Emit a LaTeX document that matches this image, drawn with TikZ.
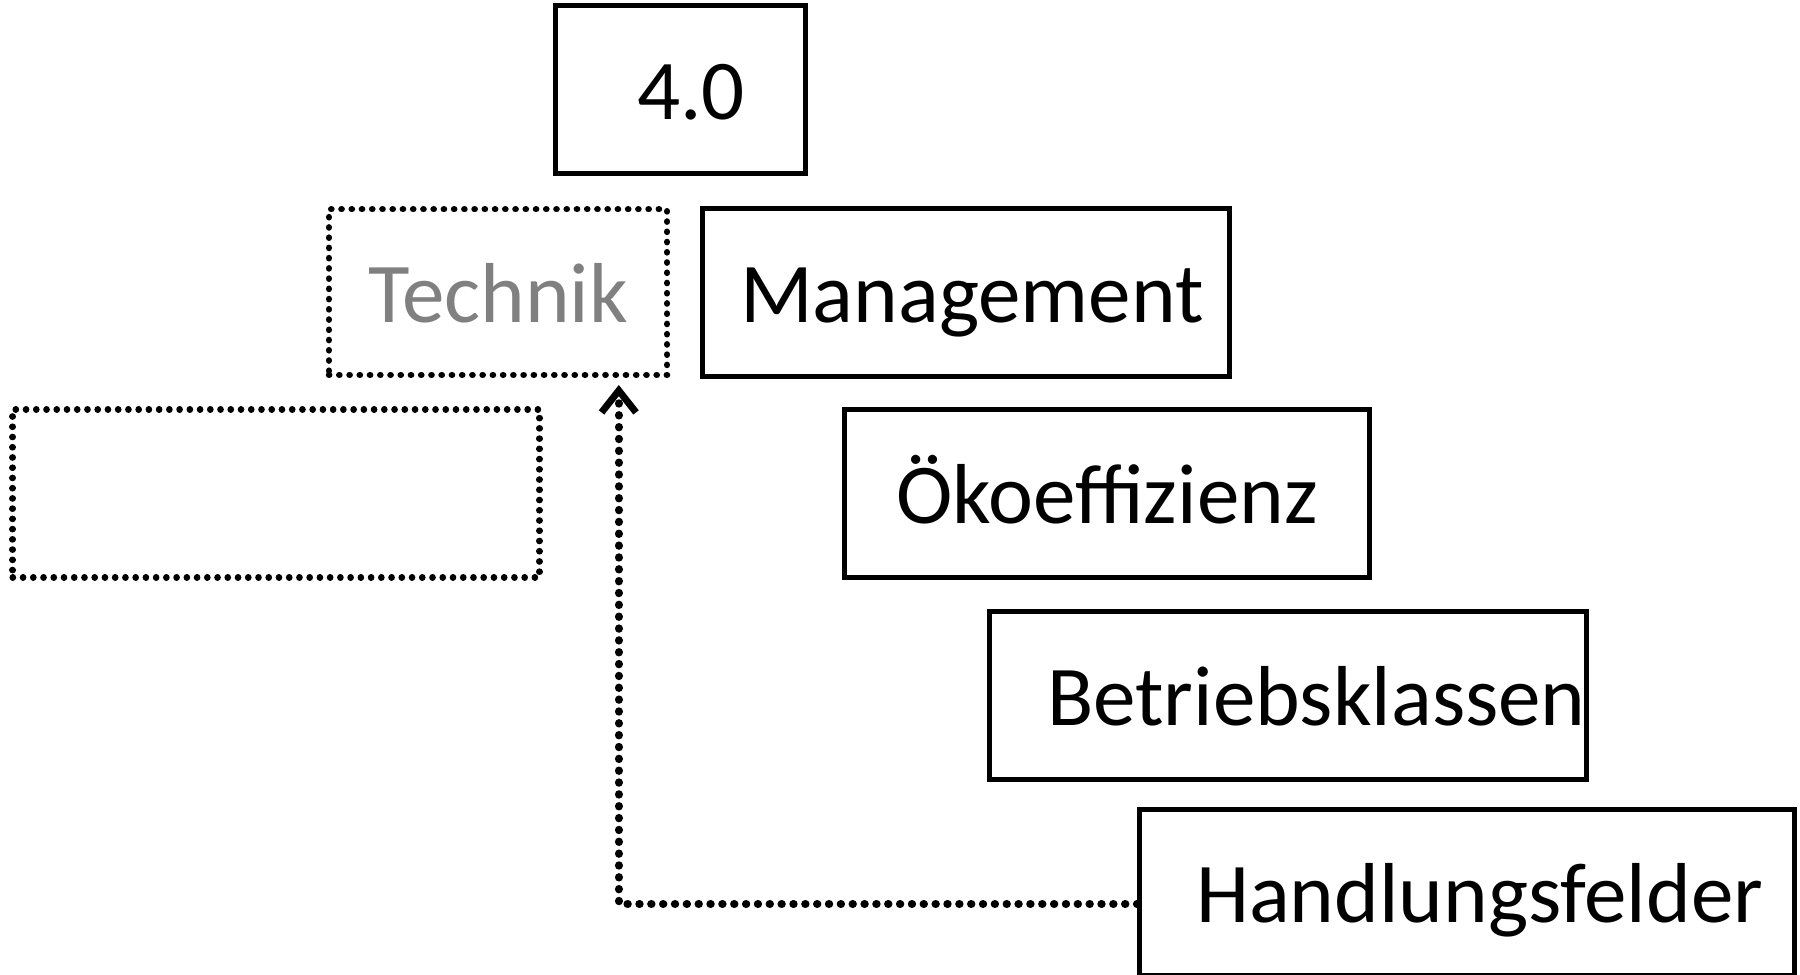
\documentclass[tikz,border=0pt]{standalone}
\usepackage{fontspec}
\setmainfont{Carlito}
\usetikzlibrary{arrows.meta}
\definecolor{techgray}{HTML}{808080}
\tikzset{
  boxbase/.style={rectangle, inner sep=0pt, text height=52bp, text depth=0bp,
    font=\fontsize{74bp}{80bp}\selectfont},
  solidbox/.style={boxbase, draw=black, line width=4.5bp},
  dotbox/.style={boxbase, draw=black, line width=5.5bp, line cap=round, dash pattern=on 0.3bp off 8.6bp},
  arrowline/.style={draw=black, line width=7bp, line cap=round, dash pattern=on 0.3bp off 10bp,
    -{Straight Barb[length=19bp,width=30bp,line width=6bp]}}
}
\begin{document}
\begin{tikzpicture}[x=1bp,y=-1bp]
\useasboundingbox (0,0) rectangle (1565,847);
\node[solidbox, minimum width=217bp, minimum height=146bp] (n40) at (591.5,78) {\hspace*{19bp}4.0};
\node[dotbox, minimum width=294bp, minimum height=144bp, text=techgray] (tech) at (433,254) {Technik};
\node[solidbox, minimum width=458bp, minimum height=146bp] (mgmt) at (840,254) {\hspace*{10bp}Management};
\node[dotbox, minimum width=458bp, minimum height=146bp] (empty) at (240,429) {};
\node[solidbox, minimum width=457bp, minimum height=146bp] (oeko) at (962.5,429) {Ökoeffizienz};
\node[solidbox, minimum width=519bp, minimum height=146bp] (betr) at (1119.5,605) {\hspace*{50bp}Betriebsklassen};
\node[solidbox, minimum width=569bp, minimum height=144bp] (hf) at (1275.5,776) {\hspace*{22bp}Handlungsfelder};
\draw[arrowline] ([yshift=-10bp]hf.west) -| ([xshift=105bp,yshift=-6bp]tech.south);
\end{tikzpicture}
\end{document}
